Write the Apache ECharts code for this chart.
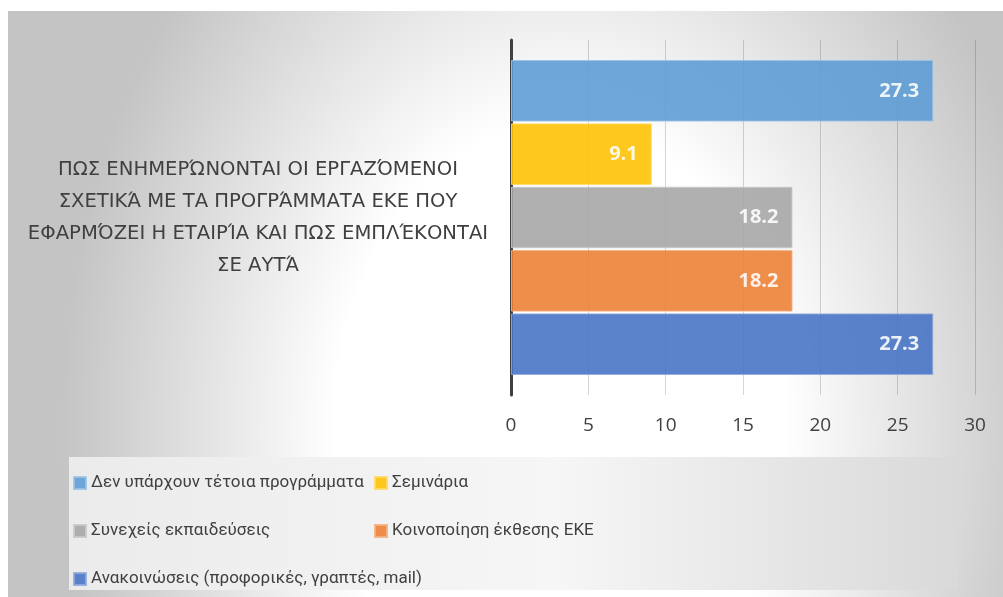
<!DOCTYPE html>
<html>
<head>
<meta charset="utf-8">
<script src="https://cdn.jsdelivr.net/npm/echarts@6/dist/echarts.min.js"></script>
<style>
html,body{margin:0;padding:0;background:#ffffff;}
#chart{width:1003px;height:597px;}
</style>
</head>
<body>
<div id="chart"></div>
<script>
const categories = ['ΠΩΣ ΕΝΗΜΕΡΏΝΟΝΤΑΙ ΟΙ ΕΡΓΑΖΌΜΕΝΟΙ\nΣΧΕΤΙΚΆ ΜΕ ΤΑ ΠΡΟΓΡΆΜΜΑΤΑ ΕΚΕ ΠΟΥ\nΕΦΑΡΜΌΖΕΙ Η ΕΤΑΙΡΊΑ ΚΑΙ ΠΩΣ ΕΜΠΛΈΚΟΝΤΑΙ\nΣΕ ΑΥΤΆ'];
const seriesNames = [
  'Δεν υπάρχουν τέτοια προγράμματα',
  'Σεμινάρια',
  'Συνεχείς εκπαιδεύσεις',
  'Κοινοποίηση έκθεσης ΕΚΕ',
  'Ανακοινώσεις (προφορικές, γραπτές, mail)'
];
const seriesValues = [27.3, 9.1, 18.2, 18.2, 27.3];
const seriesColors = ['#5B9BD5', '#FFC000', '#A5A5A5', '#ED7D31', '#4472C4'];
const seriesBorders = ['#9DC3E6', '#FFD966', '#C9C9C9', '#F4B183', '#8FAADC'];
const legendCol1 = [seriesNames[0], seriesNames[2], seriesNames[4]];
const legendCol2 = [seriesNames[1], seriesNames[3]];
const xTicks = {min: 0, max: 30, interval: 5};

const FONT = '"Open Sans", "Noto Sans", sans-serif';
const CAT_FONT = '"DejaVu Sans", "Open Sans", sans-serif';
const LEG_FONT = 'Roboto, "Open Sans", sans-serif';
const chart = echarts.init(document.getElementById('chart'), null, {renderer: 'canvas'});

const series = seriesNames.map((name, i) => ({
  name: name,
  type: 'bar',
  data: [seriesValues[i]],
  barCategoryGap: '11.3%',
  barGap: '3%',
  itemStyle: {color: seriesColors[i], opacity: 0.88, borderColor: seriesBorders[i], borderWidth: 1},
  label: {
    show: true, position: 'insideRight', distance: 14,
    color: '#ffffff', fontWeight: 'bold', fontSize: 20, fontFamily: FONT,
    formatter: p => p.value.toFixed(1)
  },
  emphasis: {disabled: true}
}));

const legendCommon = {
  orient: 'vertical', top: 468, itemWidth: 12, itemHeight: 12, itemGap: 28,
  icon: 'rect', selectedMode: false,
  textStyle: {color: '#404040', fontSize: 17, fontFamily: LEG_FONT, lineHeight: 20}
};

chart.setOption({
  animation: false,
  backgroundColor: 'transparent',
  graphic: [
    {
      type: 'rect', x: 8, y: 11, scaleX: 0.735, scaleY: 1, originX: 0, originY: 0, z: -10, silent: true,
      shape: {x: 0, y: 0, width: 1354, height: 586},
      style: {
        fill: new echarts.graphic.RadialGradient(0.555, 0.715, 1.16, [
          {offset: 0, color: '#ffffff'},
          {offset: 0.45, color: '#ffffff'},
          {offset: 1, color: '#c4c4c4'}
        ])
      }
    },
    {
      type: 'rect', x: 69, y: 457, z: -5, silent: true,
      shape: {x: 0, y: 0, width: 888, height: 133},
      style: {
        fill: new echarts.graphic.LinearGradient(0, 0, 1, 0, [
          {offset: 0, color: '#ebebeb'},
          {offset: 0.55, color: '#f6f6f6'},
          {offset: 1, color: '#d9d9d9'}
        ])
      }
    }
  ],
  grid: {left: 511, right: 28, top: 40, bottom: 202, containLabel: false},
  xAxis: {
    type: 'value', min: xTicks.min, max: xTicks.max, interval: xTicks.interval,
    axisLine: {show: false}, axisTick: {show: false},
    splitLine: {show: true, lineStyle: {color: 'rgba(0,0,0,0.16)', width: 1}},
    axisLabel: {color: '#404040', fontSize: 19, fontFamily: FONT, margin: 21}
  },
  yAxis: {
    type: 'category', data: categories, inverse: true,
    axisLine: {show: true, lineStyle: {color: '#404040', width: 3}},
    axisTick: {show: false},
    axisLabel: {
      color: '#404040', fontSize: 19.6, fontFamily: CAT_FONT, lineHeight: 32,
      align: 'center', margin: 253
    }
  },
  legend: [
    Object.assign({left: 68, data: legendCol1}, legendCommon),
    Object.assign({left: 369, data: legendCol2}, legendCommon)
  ],
  series: series
});
</script>
</body>
</html>
